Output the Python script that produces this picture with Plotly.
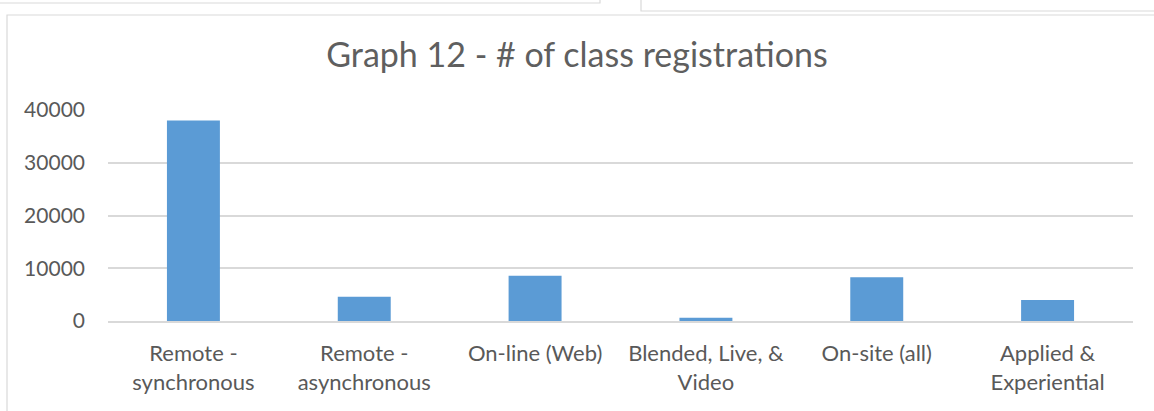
import plotly.graph_objects as go

categories = ["Remote -<br>synchronous", "Remote -<br>asynchronous", "On-line (Web)",
              "Blended, Live, &<br>Video", "On-site (all)", "Applied &<br>Experiential"]
registrations = [38000, 4600, 8600, 600, 8300, 4000]
y_ticks = [0, 10000, 20000, 30000, 40000]

W, H = 1154, 411
L, R, T, B = 108, 21, 110, 90
PW, PH = W - L - R, H - T - B

def px(x):
    return (x - L) / PW

def py(y):
    return (H - B - y) / PH

fig = go.Figure(go.Bar(x=categories, y=registrations, marker_color="#5B9BD5",
                       marker_line_width=0))

grey = "#D9D9D9"
shapes = [
    dict(type="path", xref="paper", yref="paper",
         path=f"M {px(7)},{py(420)} L {px(7)},{py(15)} L {px(1160)},{py(15)}",
         line=dict(color=grey, width=1.2)),
    dict(type="path", xref="paper", yref="paper",
         path=f"M {px(-5)},{py(3)} L {px(600)},{py(3)} L {px(600)},{py(-5)}",
         line=dict(color=grey, width=1.2)),
    dict(type="path", xref="paper", yref="paper",
         path=f"M {px(641)},{py(-5)} L {px(641)},{py(11)} L {px(1160)},{py(11)}",
         line=dict(color=grey, width=1.2)),
]

fig.update_layout(
    width=W, height=H,
    margin=dict(l=L, r=R, t=T, b=B),
    paper_bgcolor="white", plot_bgcolor="white",
    font=dict(family="Lato", color="#595959", size=22),
    title=dict(text="Graph 12 - # of class registrations", x=0.5, xref="container",
               xanchor="center", y=1 - 55 / H, yref="container", yanchor="middle",
               font=dict(size=34, color="#5f5f5f")),
    bargap=0.69,
    showlegend=False,
    shapes=shapes,
)
fig.update_xaxes(showline=True, linecolor=grey, linewidth=1.5, showgrid=False,
                 ticks="", ticklabelstandoff=12)
fig.update_yaxes(range=[0, 40000], tickvals=y_ticks, tickformat="d", showgrid=True,
                 gridcolor=grey, gridwidth=1.5, zeroline=False, showline=False,
                 ticklabelstandoff=22, tickfont=dict(size=21))

fig.write_html("out.html", config={"displayModeBar": False},
               post_script="document.body.style.margin='0';document.body.style.overflow='hidden';")
